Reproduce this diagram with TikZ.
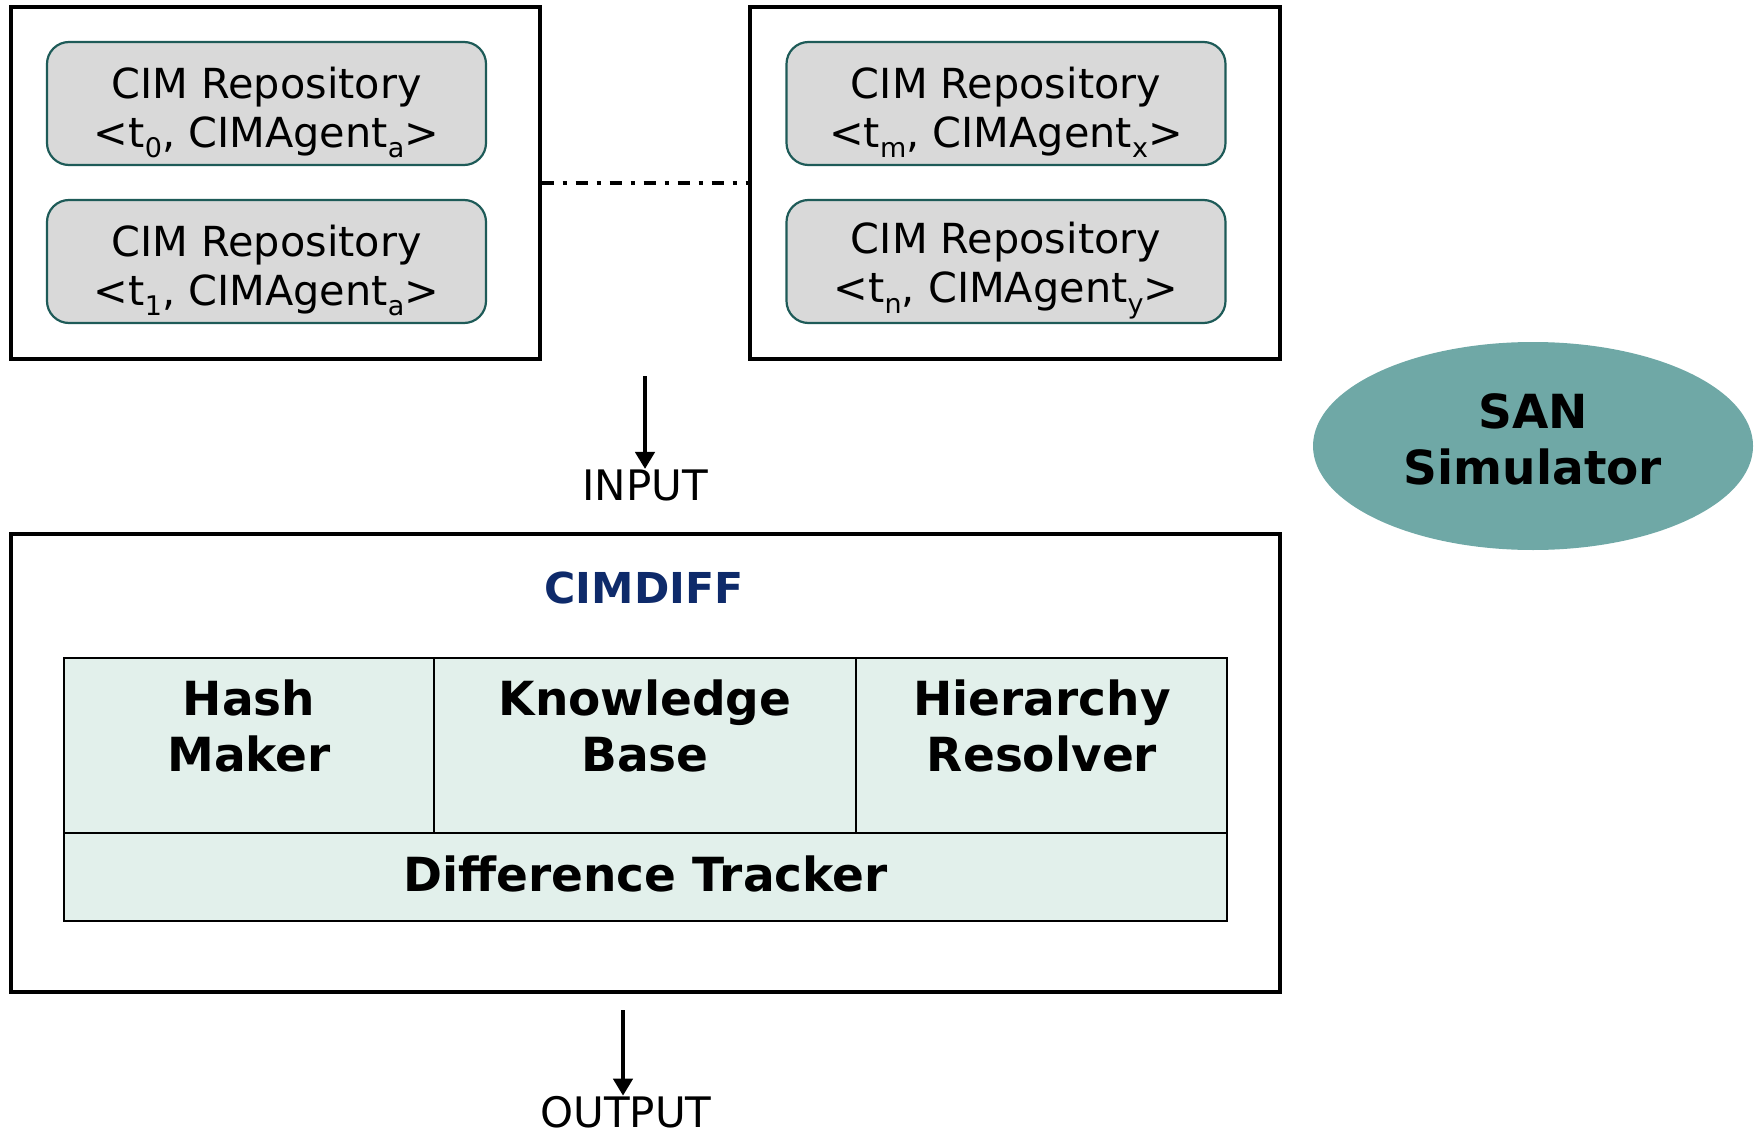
\documentclass[tikz,border=0pt]{standalone}
\usepackage{fontspec}
\setmainfont{DejaVu Sans}
\usetikzlibrary{shapes.geometric,arrows.meta}
\definecolor{repofill}{HTML}{D9D9D9}
\definecolor{repoedge}{HTML}{1E5B58}
\definecolor{sanfill}{HTML}{6FA8A6}
\definecolor{cellfill}{HTML}{E2F0EB}
\definecolor{cimblue}{HTML}{0E2A6A}
\newcommand\sbs[1]{\raisebox{-0.45ex}{\fontsize{13.5}{13.5}\selectfont #1}}
\tikzset{
  outerbox/.style={draw=black, line width=1.6pt, inner sep=0pt},
  repobox/.style={draw=repoedge, fill=repofill, line width=1.1pt, rounded corners=11pt,
    minimum width=219.5pt, minimum height=61.5pt, inner sep=0pt},
  repotext/.style={align=center, font=\fontsize{20.7}{24.5}\selectfont, inner sep=0pt},
  cellbox/.style={draw=black, fill=cellfill, line width=0.9pt, inner sep=0pt},
  celltext/.style={align=center, font=\fontsize{23.5}{28}\selectfont\bfseries, inner sep=0pt},
  plainlabel/.style={font=\fontsize{21}{25}\selectfont, inner sep=0pt},
  flow/.style={line width=2.4pt, -{Triangle[length=8.5pt,width=9.5pt]}},
}
\begin{document}
\begin{tikzpicture}[x=0.5pt,y=-0.5pt]
\useasboundingbox (0,0) rectangle (1760,1134);

% top containers
\node[outerbox, minimum width=264.5pt, minimum height=176pt] (L) at (275.5,183) {};
\node[outerbox, minimum width=265pt, minimum height=176pt] (R) at (1015,183) {};

\node[repobox] (r0) at (266.5,103.5) {};
\node[repobox] (r1) at (266.5,261.5) {};
\node[repobox] (rm) at (1006,103.5) {};
\node[repobox] (rn) at (1006,261.5) {};
\node[repotext] (r0T) at (266.5,112.5) {CIM Repository\\<t\sbs{0}, CIMAgent\sbs{a}>};
\node[repotext] (r1T) at (266.5,270.5) {CIM Repository\\<t\sbs{1}, CIMAgent\sbs{a}>};
\node[repotext] (rmT) at (1006,112.5) {CIM Repository\\<t\sbs{m}, CIMAgent\sbs{x}>};
\node[repotext] (rnT) at (1006,270.5) {CIM Repository\\<t\sbs{n}, CIMAgent\sbs{y}>};

\draw[line width=1.6pt, dash pattern=on 6pt off 4.5pt on 2pt off 4.5pt] (L.east) -- (R.west);

% input
\node[plainlabel] (IN) at (645,485) {INPUT};
\coordinate (inStart) at (645,376);
\draw[flow] (inStart) -- (inStart |- IN.north);

% SAN simulator
\node[ellipse, fill=sanfill, minimum width=220pt, minimum height=104pt, inner sep=0pt] (san) at (1533,446) {};
\node[align=center, inner sep=0pt, font=\fontsize{23.5}{28}\selectfont\bfseries] (sanT) at (1533,439) {SAN\\Simulator};

% CIMDIFF
\node[outerbox, minimum width=634.5pt, minimum height=229pt] (cd) at (645.5,763) {};
\node[font=\fontsize{21.3}{25}\selectfont\bfseries, text=cimblue, inner sep=0pt] (cdt) at (644,588) {CIMDIFF};

\node[cellbox, minimum width=185pt, minimum height=87.5pt] (hash) at (249,745.5) {};
\node[cellbox, minimum width=211pt, minimum height=87.5pt] (kb) at (645,745.5) {};
\node[cellbox, minimum width=185.5pt, minimum height=87.5pt] (hr) at (1041.5,745.5) {};
\node[cellbox, minimum width=581.5pt, minimum height=44pt] (dt) at (645.5,877) {};

\node[celltext] (hashT) at (249,726) {Hash\\Maker};
\node[celltext] (kbT) at (645,726) {Knowledge\\Base};
\node[celltext] (hrT) at (1042,726) {Hierarchy\\Resolver};
\node[celltext] (dtT) at (645.5,874) {Difference Tracker};

% output
\node[plainlabel] (OUT) at (626,1112) {OUTPUT};
\coordinate (outStart) at (623,1010);
\draw[flow] (outStart) -- (outStart |- OUT.north);
\end{tikzpicture}
\end{document}
